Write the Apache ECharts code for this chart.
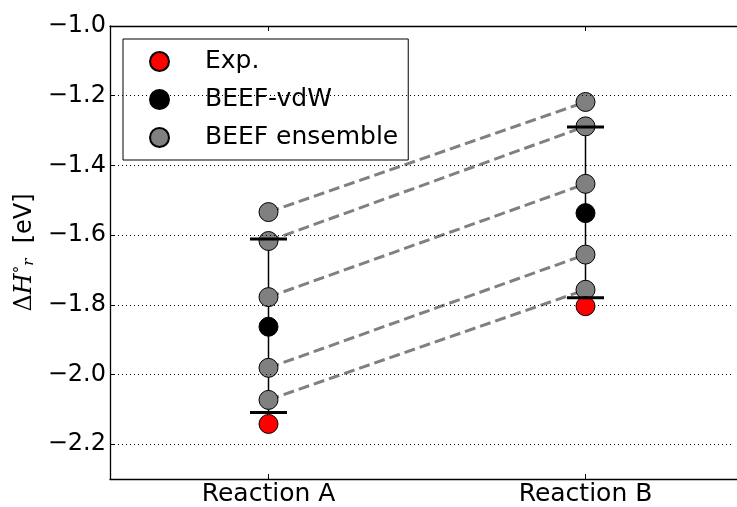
<!DOCTYPE html>
<html>
<head>
<meta charset="utf-8">
<script src="https://cdn.jsdelivr.net/npm/echarts@6/dist/echarts.min.js"></script>
<style>
html,body{margin:0;padding:0;background:#fff;overflow:hidden;}
#chart{width:737px;height:507px;overflow:hidden;}
</style>
</head>
<body>
<div id="chart"></div>
<script>
// ---- data ----
var categories = ['Reaction A', 'Reaction B'];
var expValues = [-2.142, -1.804];
var beefVdwValues = [-1.863, -1.537];
var ensembleA = [-1.534, -1.617, -1.778, -1.981, -2.073];
var ensembleB = [-1.218, -1.288, -1.453, -1.656, -1.757];
var errTop = [-1.611, -1.290];
var errBottom = [-2.109, -1.780];
var yTicks = [-2.2, -2.0, -1.8, -1.6, -1.4, -1.2, -1.0];

var FONT = 'DejaVu Sans';
var chart = echarts.init(document.getElementById('chart'));

function fmt(v) {
  var s = Math.abs(v).toFixed(1);
  return (v < -1e-9 ? '\u2212' : '') + s;
}

var series = [];
for (var i = 0; i < ensembleA.length; i++) {
  var s = {
    type: 'line',
    name: 'link' + i,
    data: [[0, ensembleA[i]], [1, ensembleB[i]]],
    symbol: 'none',
    silent: true,
    z: 1,
    lineStyle: { color: '#808080', width: 3, type: [11, 5] }
  };
  if (i === 0) {
    s.markLine = {
      silent: true,
      symbol: 'none',
      label: { show: false },
      lineStyle: { color: '#000', width: 1, type: [1, 3] },
      data: yTicks.filter(function (v) { return v < -1.05; }).map(function (v) { return { yAxis: v }; })
    };
  }
  series.push(s);
}
series.push({
  type: 'custom',
  name: 'errline',
  z: 2,
  silent: true,
  data: categories.map(function (c, k) { return [k, errTop[k], errBottom[k]]; }),
  renderItem: function (params, api) {
    var p1 = api.coord([api.value(0), api.value(1)]);
    var p2 = api.coord([api.value(0), api.value(2)]);
    return { type: 'line', shape: { x1: p1[0], y1: p1[1], x2: p2[0], y2: p2[1] }, style: { stroke: '#000', lineWidth: 1.5 } };
  }
});
var ensData = [];
for (var j = 0; j < ensembleA.length; j++) ensData.push([0, ensembleA[j]]);
for (var j2 = 0; j2 < ensembleB.length; j2++) ensData.push([1, ensembleB[j2]]);
series.push({
  type: 'scatter', name: 'BEEF ensemble', data: ensData, symbol: 'circle', symbolSize: 19, z: 3,
  itemStyle: { color: '#808080', borderColor: '#000', borderWidth: 1, opacity: 1 }
});
series.push({
  type: 'scatter', name: 'BEEF-vdW', data: beefVdwValues.map(function (v, k) { return [k, v]; }), symbol: 'circle', symbolSize: 19, z: 4,
  itemStyle: { color: '#000000', borderColor: '#000', borderWidth: 1, opacity: 1 }
});
series.push({
  type: 'scatter', name: 'Exp.', data: expValues.map(function (v, k) { return [k, v]; }), symbol: 'circle', symbolSize: 19, z: 5,
  itemStyle: { color: '#ff0000', borderColor: '#000', borderWidth: 1, opacity: 1 }
});
series.push({
  type: 'custom',
  name: 'caps',
  z: 6,
  silent: true,
  data: categories.map(function (c, k) { return [k, errTop[k], errBottom[k]]; }),
  renderItem: function (params, api) {
    var p1 = api.coord([api.value(0), api.value(1)]);
    var p2 = api.coord([api.value(0), api.value(2)]);
    var hw = 18.5;
    return {
      type: 'group',
      children: [
        { type: 'line', shape: { x1: p1[0] - hw, y1: p1[1], x2: p1[0] + hw, y2: p1[1] }, style: { stroke: '#000', lineWidth: 3 } },
        { type: 'line', shape: { x1: p2[0] - hw, y1: p2[1], x2: p2[0] + hw, y2: p2[1] }, style: { stroke: '#000', lineWidth: 3 } }
      ]
    };
  }
});

var option = {
  animation: false,
  backgroundColor: '#fff',
  textStyle: { fontFamily: FONT },
  grid: { show: false, left: 110, width: 634, top: 26, bottom: 28, containLabel: false, outerBoundsMode: 'none' },
  graphic: [{
    type: 'rect', right: 0, top: 29, z: 100, silent: true,
    shape: { width: 3, height: 448 },
    style: { fill: '#fff' }
  }],
  legend: {
    data: ['Exp.', 'BEEF-vdW', 'BEEF ensemble'],
    orient: 'vertical',
    left: 123,
    top: 39,
    padding: [10, 10, 10, 26],
    itemGap: 13,
    itemWidth: 19,
    itemHeight: 19,
    borderColor: '#000',
    borderWidth: 1,
    backgroundColor: '#fff',
    selectedMode: false,
    textStyle: { fontFamily: FONT, fontSize: 25, color: '#000', padding: [0, 0, 0, 31] }
  },
  xAxis: [{
    type: 'category',
    data: categories,
    position: 'bottom',
    boundaryGap: true,
    axisLine: { show: true, lineStyle: { color: '#000', width: 1.3 } },
    axisTick: { show: true, inside: true, alignWithLabel: true, length: 5, lineStyle: { color: '#000' } },
    axisLabel: { fontFamily: FONT, fontSize: 25, color: '#000', margin: 3 },
    splitLine: { show: false },
    splitArea: { show: false }
  }, {
    type: 'category',
    data: categories,
    position: 'top',
    boundaryGap: true,
    axisLine: { show: true, lineStyle: { color: '#000', width: 1.3 } },
    axisTick: { show: true, inside: true, alignWithLabel: true, length: 5, lineStyle: { color: '#000' } },
    axisLabel: { show: false },
    splitLine: { show: false },
    splitArea: { show: false }
  }],
  yAxis: {
    type: 'value',
    min: -2.3,
    max: -1.0,
    axisLine: { show: true, lineStyle: { color: '#000', width: 1.3 } },
    axisTick: { show: true, inside: true, length: 5, lineStyle: { color: '#000' }, customValues: yTicks },
    axisLabel: { fontFamily: FONT, fontSize: 24, color: '#000', margin: 4, customValues: yTicks, formatter: fmt },
    splitLine: { show: false },
    splitArea: { show: false },
    name: '{d|\u0394}{h|H}{sup|\u00b0}{sub|r}{n|  [eV]}',
    nameLocation: 'middle',
    nameRotate: 90,
    nameGap: 68,
    nameTextStyle: {
      color: '#000',
      fontSize: 24,
      fontFamily: FONT,
      rich: {
        d: { fontFamily: 'DejaVu Serif', fontSize: 24, color: '#000' },
        h: { fontFamily: 'DejaVu Serif', fontStyle: 'italic', fontSize: 24, color: '#000' },
        sup: { fontFamily: 'DejaVu Serif', fontSize: 15, color: '#000', verticalAlign: 'top' },
        sub: { fontFamily: 'DejaVu Serif', fontStyle: 'italic', fontSize: 15, color: '#000', verticalAlign: 'bottom' },
        n: { fontFamily: FONT, fontSize: 24, color: '#000' }
      }
    }
  },
  series: series
};
chart.setOption(option);
</script>
</body>
</html>
